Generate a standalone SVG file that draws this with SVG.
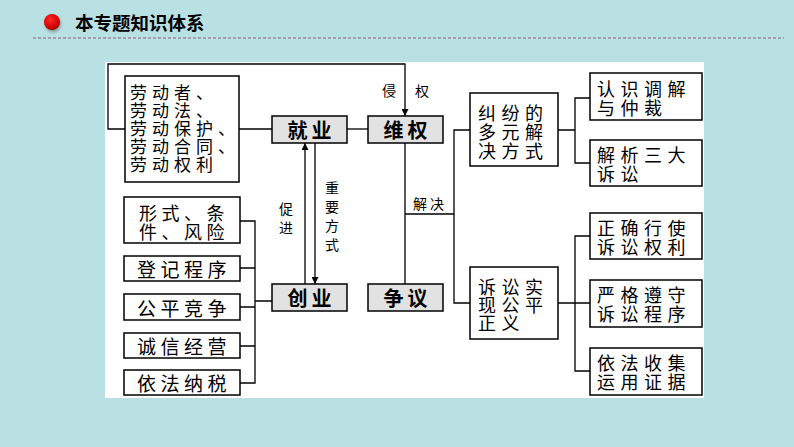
<svg xmlns="http://www.w3.org/2000/svg" width="794" height="447" viewBox="0 0 794 447">
<defs>
<marker id="arr" viewBox="0 0 10 10" refX="10" refY="5" markerWidth="7" markerHeight="7" orient="auto" markerUnits="userSpaceOnUse"><path d="M0,0 L10,5 L0,10 z" fill="#000"/></marker>
<radialGradient id="red" cx="0.4" cy="0.35" r="0.7"><stop offset="0" stop-color="#ff2a2a"/><stop offset="0.7" stop-color="#d40000"/><stop offset="1" stop-color="#8a0000"/></radialGradient>
<filter id="sh" x="-50%" y="-50%" width="200%" height="200%"><feGaussianBlur stdDeviation="1.5"/></filter>
</defs>
<style>
.box{fill:#fff;stroke:#000;stroke-width:1.5}
.key{fill:#e2e2e2;stroke:#000;stroke-width:1.5}
.t{font-family:"Noto Sans CJK SC","Noto Sans CJK JP",sans-serif;fill:#000;dominant-baseline:central}
.n{font-size:17px;letter-spacing:5px}
.r{font-size:18px;letter-spacing:5.5px}
.m{font-size:19px;letter-spacing:4.5px;text-anchor:middle}
.k{font-size:20px;font-weight:bold;letter-spacing:4px;text-anchor:middle}
.s{font-size:14px;text-anchor:middle}
.c{fill:none;stroke:#000;stroke-width:1.3}
</style>
<rect x="0" y="0" width="794" height="447" fill="#b9e0e3"/>
<g id="header">
<circle cx="53" cy="24" r="8" fill="#555" opacity="0.5" filter="url(#sh)"/>
<circle cx="52" cy="22" r="8" fill="url(#red)"/>
<text x="75" y="22" class="t" style="font-size:18.5px;font-weight:bold">本专题知识体系</text>
<line x1="33" y1="38" x2="784" y2="38" stroke="#9a8a9c" stroke-width="1.3" stroke-dasharray="3,2"/>
</g>
<rect x="105" y="62" width="599" height="336" fill="#fff"/>
<g id="connectors">
<path class="c" d="M125,129 H108 V64 H405 V116" marker-end="url(#arr)"/>
<line class="c" x1="239" y1="129" x2="272" y2="129"/>
<line class="c" x1="347" y1="129" x2="368" y2="129"/>
<line class="c" x1="305" y1="284" x2="305" y2="143" marker-end="url(#arr)"/>
<line class="c" x1="315" y1="143" x2="315" y2="284" marker-end="url(#arr)"/>
<line class="c" x1="405" y1="143" x2="405" y2="284"/>
<line class="c" x1="405" y1="214" x2="454" y2="214"/>
<path class="c" d="M470,130 H454 V303 H470"/>
<path class="c" d="M558,130 H575 M590,98 H575 V163 H590"/>
<path class="c" d="M558,303 H590 M590,236 H575 V371 H590"/>
<path class="c" d="M240,221 H255 V383 H240 M240,268 H255 M240,307 H255 M240,346 H255 M255,301 H272"/>
<text class="t s" x="389" y="90">侵</text>
<text class="t s" x="422" y="90">权</text>
<text class="t s" x="430" y="203" style="letter-spacing:3px">解决</text>
<text class="t s" y="208"><tspan x="286">促</tspan><tspan x="286" dy="19">进</tspan></text>
<text class="t s" y="187"><tspan x="332">重</tspan><tspan x="332" dy="19">要</tspan><tspan x="332" dy="19">方</tspan><tspan x="332" dy="19">式</tspan></text>
</g>
<g id="n-labor">
<rect class="box" x="125" y="76" width="114" height="106"/>
<text class="t n" y="91"><tspan x="130">劳动者、</tspan><tspan x="130" dy="18">劳动法、</tspan><tspan x="130" dy="18">劳动保护、</tspan><tspan x="130" dy="18">劳动合同、</tspan><tspan x="130" dy="18">劳动权利</tspan></text>
</g>
<g id="n-jiuye"><rect class="key" x="272" y="116" width="75" height="27"/><text class="t k" x="311.5" y="129.5">就业</text></g>
<g id="n-weiquan"><rect class="key" x="368" y="116" width="75" height="27"/><text class="t k" x="407.5" y="129.5">维权</text></g>
<g id="n-chuangye"><rect class="key" x="272" y="284" width="75" height="27"/><text class="t k" x="311.5" y="297.5">创业</text></g>
<g id="n-zhengyi"><rect class="key" x="368" y="284" width="75" height="27"/><text class="t k" x="407.5" y="297.5">争议</text></g>
<g id="n-form">
<rect class="box" x="124" y="197" width="116" height="46"/>
<text class="t m" y="212" style="font-size:18px"><tspan x="184">形式、条</tspan><tspan x="184" dy="19">件、风险</tspan></text>
</g>
<g id="n-reg"><rect class="box" x="124" y="256" width="116" height="25"/><text class="t m" x="184" y="268.5">登记程序</text></g>
<g id="n-fair"><rect class="box" x="124" y="294" width="116" height="26"/><text class="t m" x="184" y="307">公平竞争</text></g>
<g id="n-honest"><rect class="box" x="124" y="333" width="116" height="25"/><text class="t m" x="184" y="345.5">诚信经营</text></g>
<g id="n-tax"><rect class="box" x="124" y="370" width="116" height="25"/><text class="t m" x="184" y="382.5">依法纳税</text></g>
<g id="n-multi">
<rect class="box" x="470" y="93" width="88" height="73"/>
<text class="t r" y="112"><tspan x="478">纠纷的</tspan><tspan x="478" dy="19">多元解</tspan><tspan x="478" dy="19">决方式</tspan></text>
</g>
<g id="n-litig">
<rect class="box" x="470" y="267" width="88" height="72"/>
<text class="t r" y="286"><tspan x="478">诉讼实</tspan><tspan x="478" dy="18">现公平</tspan><tspan x="478" dy="18">正义</tspan></text>
</g>
<g id="n-mediate">
<rect class="box" x="590" y="73" width="112" height="47"/>
<text class="t r" y="88"><tspan x="597">认识调解</tspan><tspan x="597" dy="19">与仲裁</tspan></text>
</g>
<g id="n-three">
<rect class="box" x="590" y="140" width="112" height="46"/>
<text class="t r" y="154"><tspan x="597">解析三大</tspan><tspan x="597" dy="19">诉讼</tspan></text>
</g>
<g id="n-right">
<rect class="box" x="590" y="213" width="112" height="46"/>
<text class="t r" y="227"><tspan x="597">正确行使</tspan><tspan x="597" dy="19">诉讼权利</tspan></text>
</g>
<g id="n-proc">
<rect class="box" x="590" y="280" width="112" height="47"/>
<text class="t r" y="294"><tspan x="597">严格遵守</tspan><tspan x="597" dy="19">诉讼程序</tspan></text>
</g>
<g id="n-evid">
<rect class="box" x="590" y="348" width="112" height="47"/>
<text class="t r" y="362"><tspan x="597">依法收集</tspan><tspan x="597" dy="19">运用证据</tspan></text>
</g>
</svg>
